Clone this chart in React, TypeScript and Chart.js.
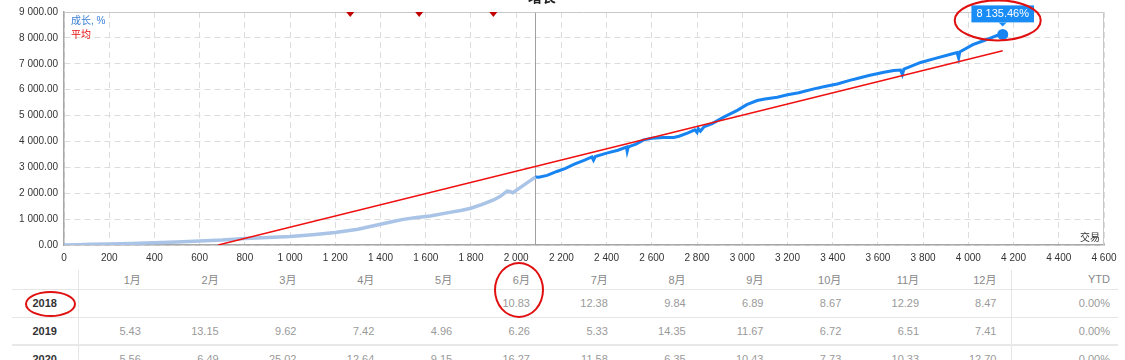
import React, { useEffect, useRef } from 'react';
import { Chart, registerables } from 'chart.js';

Chart.register(...registerables);

// ---------- chart data ----------
const X_MIN = 0;
const X_MAX = 4600;
const X_STEP = 200;
const Y_MIN = 0;
const Y_MAX = 9000;
const Y_STEP = 1000;

const LIGHT_TRADES = [0, 60, 120, 200, 300, 400, 500, 600, 700, 800, 900, 1000, 1100, 1200, 1300, 1400, 1450, 1500, 1560, 1620, 1700, 1760, 1800, 1850, 1900, 1930, 1960, 1972, 1985, 2000, 2040, 2085];
const LIGHT_GROWTH = [0, 10, 25, 40, 60, 90, 115, 150, 190, 250, 290, 330, 400, 480, 610, 800, 900, 990, 1060, 1120, 1250, 1340, 1420, 1570, 1740, 1880, 2080, 2070, 2020, 2110, 2350, 2620];

const DARK_TRADES = [2085, 2100, 2137, 2180, 2218, 2260, 2300, 2335, 2342, 2350, 2400, 2450, 2488, 2491, 2496, 2530, 2564, 2600, 2650, 2697, 2720, 2760, 2790, 2800, 2805, 2815, 2830, 2867, 2920, 2978, 3020, 3066, 3100, 3155, 3200, 3250, 3317, 3370, 3420, 3479, 3500, 3560, 3627, 3670, 3700, 3708, 3715, 3789, 3850, 3922, 3950, 3957, 3962, 4020, 4070, 4100, 4129, 4152];
const DARK_GROWTH = [2630, 2620, 2690, 2840, 2960, 3130, 3270, 3400, 3280, 3420, 3550, 3660, 3780, 3620, 3790, 3900, 4060, 4120, 4150, 4150, 4200, 4330, 4450, 4350, 4500, 4400, 4560, 4690, 4950, 5200, 5420, 5580, 5640, 5710, 5800, 5880, 6030, 6130, 6220, 6370, 6410, 6550, 6670, 6740, 6760, 6580, 6790, 7050, 7200, 7370, 7430, 7220, 7460, 7740, 7900, 8000, 8100, 8135.46];

const AVG_TRADES = [682, 4152];
const AVG_GROWTH = [0, 7500];

const MARKER_TRADES = [1266, 1571, 1899];
const SPLIT_TRADE = 2085;
const LAST_TRADE = 4152;
const LAST_GROWTH = 8135.46;

const LEGEND_GROWTH = '成长, %';
const LEGEND_AVG = '平均';
const X_TITLE = '交易';
const CHART_TITLE = '增长';

// ---------- table data ----------
const MONTHS = ['1月', '2月', '3月', '4月', '5月', '6月', '7月', '8月', '9月', '10月', '11月', '12月'];
const YEARS = ['2018', '2019', '2020'];
const ROW_2018 = [null, null, null, null, null, 10.83, 12.38, 9.84, 6.89, 8.67, 12.29, 8.47];
const ROW_2019 = [5.43, 13.15, 9.62, 7.42, 4.96, 6.26, 5.33, 14.35, 11.67, 6.72, 6.51, 7.41];
const ROW_2020 = [5.56, 6.49, 25.02, 12.64, 9.15, 16.27, 11.58, 6.35, 10.43, 7.73, 10.33, 12.70];
const YTD = [0, 0, 0];

const ROWS = [ROW_2018, ROW_2019, ROW_2020];

const FONT = "'Liberation Sans', 'Noto Sans CJK SC', sans-serif";
const DARK_BLUE = '#1784f2';
const LIGHT_BLUE = '#a9c4e6';

function fmtNum(v: number, dec: number): string {
  const s = v.toFixed(dec);
  const parts = s.split('.');
  const i = parts[0].replace(/\B(?=(\d{3})+(?!\d))/g, ' ');
  return parts.length > 1 ? i + '.' + parts[1] : i;
}

const overlayPlugin = {
  id: 'overlay',
  beforeDatasetsDraw(chart: any) {
    const { ctx, chartArea, scales } = chart;
    const x = scales.x.getPixelForValue(SPLIT_TRADE);
    ctx.save();
    ctx.strokeStyle = '#a0a0a0';
    ctx.lineWidth = 1;
    ctx.beginPath();
    ctx.moveTo(Math.round(x) + 0.5, chartArea.top);
    ctx.lineTo(Math.round(x) + 0.5, chartArea.bottom);
    ctx.stroke();
    ctx.restore();
  },
  afterDraw(chart: any) {
    const { ctx, chartArea, scales } = chart;
    ctx.save();
    // frame top & right
    ctx.strokeStyle = '#c8c8c8';
    ctx.lineWidth = 1;
    ctx.beginPath();
    ctx.moveTo(chartArea.left, chartArea.top + 0.5);
    ctx.lineTo(chartArea.right - 0.5, chartArea.top + 0.5);
    ctx.lineTo(chartArea.right - 0.5, chartArea.bottom);
    ctx.stroke();

    // triangles at top
    ctx.fillStyle = '#c00000';
    MARKER_TRADES.forEach((t) => {
      const px = scales.x.getPixelForValue(t);
      const top = chartArea.top;
      ctx.beginPath();
      ctx.moveTo(px - 4, top);
      ctx.lineTo(px + 4, top);
      ctx.lineTo(px, top + 5);
      ctx.closePath();
      ctx.fill();
    });

    // legend
    ctx.font = `10px ${FONT}`;
    ctx.textBaseline = 'middle';
    ctx.textAlign = 'left';
    ctx.fillStyle = '#3a7fd5';
    ctx.fillText(LEGEND_GROWTH, chartArea.left + 7, chartArea.top + 9);
    ctx.fillStyle = '#e81010';
    ctx.fillText(LEGEND_AVG, chartArea.left + 7, chartArea.top + 23);

    // x title
    ctx.fillStyle = '#333';
    ctx.textAlign = 'right';
    ctx.fillText(X_TITLE, chartArea.right - 4, chartArea.bottom - 7);

    // value label
    const lx = scales.x.getPixelForValue(LAST_TRADE);
    const ly = scales.y.getPixelForValue(LAST_GROWTH);
    const label = fmtNum(LAST_GROWTH, 2) + '%';
    ctx.font = `11px ${FONT}`;
    const w = ctx.measureText(label).width + 10;
    const h = 17;
    const bx = lx - w / 2;
    const bBottom = ly - 12;
    ctx.fillStyle = '#1a8cf5';
    ctx.fillRect(bx, bBottom - h, w, h);
    ctx.beginPath();
    ctx.moveTo(lx - 4, bBottom);
    ctx.lineTo(lx + 4, bBottom);
    ctx.lineTo(lx, bBottom + 4);
    ctx.closePath();
    ctx.fill();
    ctx.fillStyle = '#fff';
    ctx.textAlign = 'center';
    ctx.textBaseline = 'middle';
    ctx.fillText(label, lx, bBottom - h / 2 + 0.5);

    // hand-drawn red ellipse
    ctx.strokeStyle = '#e01010';
    ctx.lineWidth = 2;
    ctx.beginPath();
    ctx.ellipse(lx - 5, ly - 14, 43, 20, 0, 0, Math.PI * 2);
    ctx.stroke();
    ctx.restore();
  },
};

export default function App() {
  const ref = useRef<HTMLCanvasElement>(null);

  useEffect(() => {
    const canvas = ref.current;
    if (!canvas) return;
    const chart = new Chart(canvas, {
      type: 'line',
      data: {
        datasets: [
          {
            label: 'avg',
            data: AVG_TRADES.map((t, i) => ({ x: t, y: AVG_GROWTH[i] })),
            borderColor: '#f01010',
            borderWidth: 1.5,
            pointRadius: 0,
            tension: 0,
            order: 1,
          },
          {
            label: 'light',
            data: LIGHT_TRADES.map((t, i) => ({ x: t, y: LIGHT_GROWTH[i] })),
            borderColor: LIGHT_BLUE,
            borderWidth: 3.5,
            pointRadius: 0,
            tension: 0,
            order: 2,
          },
          {
            label: 'dark',
            data: DARK_TRADES.map((t, i) => ({ x: t, y: DARK_GROWTH[i] })),
            borderColor: DARK_BLUE,
            borderWidth: 3,
            pointRadius: 0,
            tension: 0,
            order: 2,
          },
          {
            label: 'last',
            data: [{ x: LAST_TRADE, y: LAST_GROWTH }],
            borderColor: DARK_BLUE,
            backgroundColor: DARK_BLUE,
            pointRadius: 5.5,
            pointBorderWidth: 0,
            showLine: false,
            order: 0,
          },
        ],
      },
      options: {
        animation: false,
        responsive: false,
        events: [],
        layout: { padding: { top: 11, right: 21, left: 0, bottom: 0 } },
        plugins: { legend: { display: false }, tooltip: { enabled: false }, title: { display: false } },
        scales: {
          x: {
            type: 'linear',
            min: X_MIN,
            max: X_MAX,
            afterFit: (s: any) => { s.height = 23; },
            ticks: {
              stepSize: X_STEP,
              padding: 7,
              color: '#333',
              font: { family: FONT, size: 10 },
              maxRotation: 0,
              autoSkip: false,
              callback: (v: any) => fmtNum(Number(v), 0),
            },
            grid: { color: '#dcdcdc', drawTicks: false, lineWidth: 1 },
            border: { display: true, color: '#a8a8a8', width: 1.5, dash: [6, 4] },
          },
          y: {
            type: 'linear',
            min: Y_MIN,
            max: Y_MAX,
            afterFit: (s: any) => { s.width = 64; },
            ticks: {
              stepSize: Y_STEP,
              padding: 6,
              color: '#333',
              font: { family: FONT, size: 10 },
              callback: (v: any) => fmtNum(Number(v), 2),
            },
            grid: { color: '#dcdcdc', drawTicks: false, lineWidth: 1 },
            border: { display: true, color: '#a8a8a8', width: 1.5, dash: [6, 4] },
          },
        },
      },
      plugins: [overlayPlugin],
    } as any);
    return () => chart.destroy();
  }, []);

  const cellBase: React.CSSProperties = {
    textAlign: 'right',
    padding: '0 15px 0 0',
    color: '#9a9a9a',
    fontSize: 11,
    borderBottom: '1px solid #e6e6e6',
    whiteSpace: 'nowrap',
  };

  return (
    <div style={{ position: 'absolute', left: 0, top: 0, width: 1125, height: 360, overflow: 'hidden', background: '#fff', fontFamily: FONT }}>
      <canvas ref={ref} width={1125} height={268} style={{ position: 'absolute', left: 0, top: 0, width: 1125, height: 268 }} />
      <div style={{ position: 'absolute', left: 528, top: -14, fontSize: 14, fontWeight: 'bold', color: '#222' }}>{CHART_TITLE}</div>
      <table style={{ position: 'absolute', left: 12, top: 270, width: 1106, borderCollapse: 'collapse', tableLayout: 'fixed' }}>
        <colgroup>
          <col style={{ width: 66 }} />
          {MONTHS.map((m) => <col key={m} style={{ width: 934 / 12 }} />)}
          <col style={{ width: 106 }} />
        </colgroup>
        <tbody>
          <tr style={{ height: 19 }}>
            <td style={{ ...cellBase, borderRight: '1px solid #e6e6e6' }}></td>
            {MONTHS.map((m) => (
              <td key={m} style={{ ...cellBase, color: '#888' }}>{m}</td>
            ))}
            <td style={{ ...cellBase, color: '#888', padding: '0 8px 0 0', borderLeft: '1px solid #e6e6e6' }}>YTD</td>
          </tr>
          {YEARS.map((yr, r) => (
            <tr key={yr} style={{ height: 28 }}>
              <td style={{ ...cellBase, textAlign: 'center', padding: 0, color: '#333', fontWeight: 'bold', borderRight: '1px solid #e6e6e6', borderBottom: r === 1 ? '2px solid #e8e8e8' : cellBase.borderBottom }}>{yr}</td>
              {ROWS[r].map((v, i) => (
                <td key={i} style={{ ...cellBase, borderBottom: r === 1 ? '2px solid #e8e8e8' : cellBase.borderBottom }}>{v === null ? '' : v.toFixed(2)}</td>
              ))}
              <td style={{ ...cellBase, padding: '0 8px 0 0', borderLeft: '1px solid #e6e6e6', borderBottom: r === 1 ? '2px solid #e8e8e8' : cellBase.borderBottom }}>{YTD[r].toFixed(2) + '%'}</td>
            </tr>
          ))}
        </tbody>
      </table>
      <div style={{ position: 'absolute', left: 25, top: 291, width: 47, height: 22, border: '2px solid #e01010', borderRadius: '50%' }} />
      <div style={{ position: 'absolute', left: 494, top: 262, width: 46, height: 52, border: '2px solid #e01010', borderRadius: '50%' }} />
    </div>
  );
}
